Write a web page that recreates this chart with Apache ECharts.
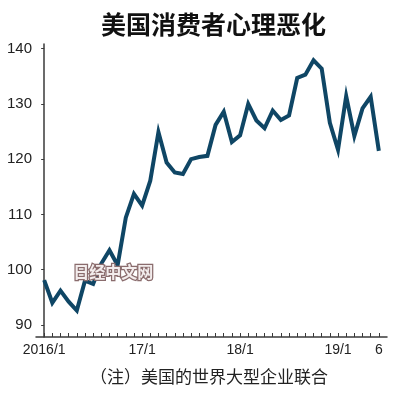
<!DOCTYPE html>
<html>
<head>
<meta charset="utf-8">
<script src="https://cdn.jsdelivr.net/npm/echarts@6/dist/echarts.min.js"></script>
<style>
html,body{margin:0;padding:0;background:#fff;}
#chart{width:400px;height:394px;}
</style>
</head>
<body>
<div id="chart"></div>
<script>
// Monthly index, 2016/1 .. 2019/6
const values2016 = [98.1, 94.0, 96.2, 94.2, 92.6, 98.0, 97.4, 101.1, 103.5, 100.8, 109.4, 113.7];
const values2017 = [111.6, 116.1, 124.9, 119.4, 117.6, 117.3, 120.0, 120.4, 120.6, 126.2, 128.6, 123.1];
const values2018 = [124.3, 130.0, 127.0, 125.6, 128.8, 127.1, 127.9, 134.7, 135.3, 137.9, 136.4, 126.6];
const values2019 = [121.7, 131.4, 124.2, 129.2, 131.3, 121.5];
const xTickMonths = [0, 12, 24, 36, 41];
const xTickLabels = ['2016/1', '17/1', '18/1', '19/1', '6'];
const yTicks = [90, 100, 110, 120, 130, 140];
const titleText = '美国消费者心理恶化';
const noteText = '（注）美国的世界大型企业联合';
const watermarkText = '日经中文网';

const values = [].concat(values2016, values2017, values2018, values2019);
const lineData = values.map((v, i) => [i, v]);
const allMonths = values.map((v, i) => i);
const labelMap = {};
xTickMonths.forEach((m, i) => { labelMap[m] = xTickLabels[i]; });

const chart = echarts.init(document.getElementById('chart'), null, {renderer: 'canvas'});
chart.setOption({
  animation: false,
  backgroundColor: '#ffffff',
  title: {
    text: titleText,
    left: 96,
    top: 7,
    textStyle: {
      fontFamily: '"Noto Sans CJK SC", sans-serif',
      fontSize: 25,
      fontWeight: 'bold',
      color: '#111111'
    }
  },
  grid: { left: 36, right: 13, top: 44, bottom: 57, containLabel: false },
  xAxis: {
    type: 'value',
    min: -1,
    max: 42,
    axisLine: { show: true, lineStyle: { color: '#3a3a3a', width: 1.5 } },
    axisTick: { show: true, inside: true, length: 4, customValues: allMonths,
                lineStyle: { color: '#3a3a3a', width: 1 } },
    splitLine: { show: false },
    axisLabel: {
      customValues: xTickMonths,
      formatter: v => labelMap[v] || '',
      margin: 6,
      fontFamily: '"Liberation Sans", sans-serif',
      fontSize: 14,
      color: '#222222'
    }
  },
  yAxis: {
    type: 'value',
    min: 87.8,
    max: 140.85,
    axisLine: { show: true, lineStyle: { color: '#3a3a3a', width: 1.5 } },
    axisTick: { show: true, inside: false, length: 3, customValues: yTicks,
                lineStyle: { color: '#3a3a3a', width: 1 } },
    splitLine: { show: false },
    axisLabel: {
      customValues: yTicks,
      margin: 4,
      fontFamily: '"Liberation Sans", sans-serif',
      fontSize: 15,
      color: '#222222'
    }
  },
  series: [{
    type: 'line',
    data: lineData,
    symbol: 'none',
    lineStyle: { color: '#0f4665', width: 4, join: 'miter' },
    z: 3
  }],
  graphic: [
    {
      type: 'text',
      left: 72,
      top: 263,
      z: 10,
      style: {
        text: watermarkText,
        fontFamily: '"Noto Sans CJK SC", sans-serif',
        fontSize: 16,
        fontWeight: 'bold',
        fill: '#f3eded',
        stroke: '#8a6c6d',
        lineWidth: 2.5
      }
    },
    {
      type: 'text',
      left: 90,
      top: 368,
      style: {
        text: noteText,
        fontFamily: '"Noto Sans CJK SC", sans-serif',
        fontSize: 17,
        fill: '#222222'
      }
    }
  ]
});
</script>
</body>
</html>
